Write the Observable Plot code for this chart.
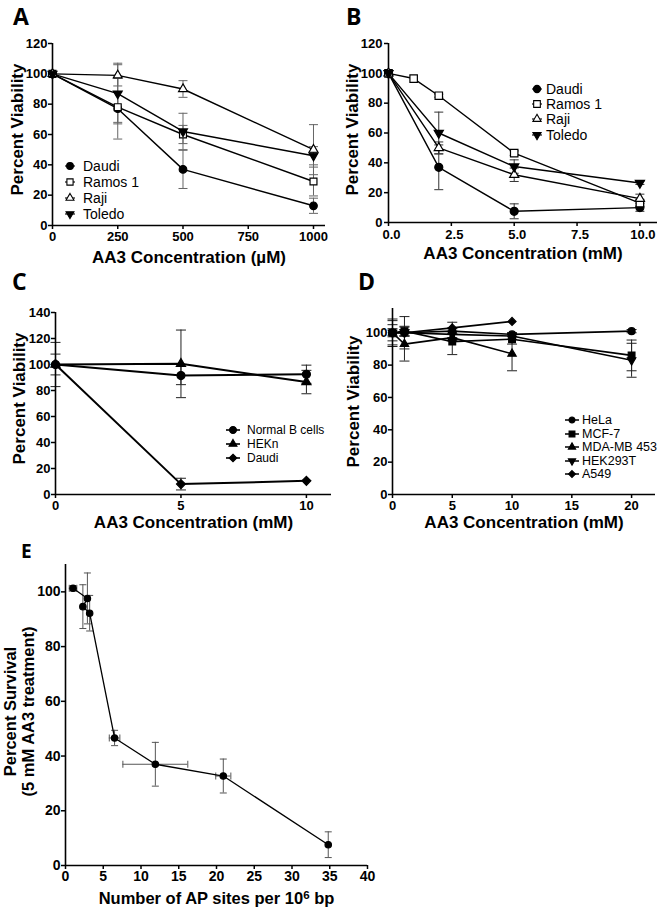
<!DOCTYPE html>
<html><head><meta charset="utf-8">
<script src="https://cdn.jsdelivr.net/npm/d3@7"></script>
<script src="https://cdn.jsdelivr.net/npm/@observablehq/plot@0.6"></script>
<style>
body{margin:0;background:#fff;}
#fig{position:relative;width:670px;height:911px;background:#fff;font-family:"Liberation Sans",Arial,sans-serif;overflow:hidden}
.panel{position:absolute}
.letter{position:absolute;font-family:"Open Sans",sans-serif;font-weight:700;line-height:1;color:#000}
.leg{position:absolute;overflow:visible}
.legtxt{position:absolute;white-space:nowrap;line-height:1;transform:translateY(-50%);color:#000;font-family:"Liberation Sans",Arial,sans-serif}
</style></head><body><div id="fig"></div>
<script>
// ---------------- DATA ----------------
// Panel A (AA3 µM)
const aConc = [0, 250, 500, 1000];
const aNames = ["Daudi", "Ramos 1", "Raji", "Toledo"];
const aDaudi = [100, 77, 37, 13];
const aDaudiErr = [0, 20, 12.6, 5];
const aRamos = [100, 78, 60, 29];
const aRamosErr = [0, 10, 6, 9.5];
const aRaji = [100, 99, 90, 50];
const aRajiErr = [0, 7, 5.5, 16.5];
const aToledo = [100, 87, 62, 46];
const aToledoErr = [0, 20, 12, 6];
const aXTicks = [0, 250, 500, 750, 1000];
const aYTicks = [0, 20, 40, 60, 80, 100, 120];

// Panel B (AA3 mM)
const bConc = [0, 2, 5, 10];
const bConcRamos = [0, 1, 2, 5, 10];
const bNames = ["Daudi", "Ramos 1", "Raji", "Toledo"];
const bDaudi = [100, 37, 7.5, 10];
const bDaudiErr = [0, 15, 5, 2.5];
const bRamos = [100, 96.5, 85, 46.5, 13];
const bRamosErr = [0, 0, 1, 1.5, 2];
const bRaji = [100, 50, 32, 16];
const bRajiErr = [0, 4, 4.5, 3];
const bToledo = [100, 60, 37.5, 26.5];
const bToledoErr = [0, 14, 4.5, 1];
const bXTicks = [0, 2.5, 5, 7.5, 10];
const bYTicks = [0, 20, 40, 60, 80, 100, 120];

// Panel C
const cConc = [0, 5, 10];
const cNames = ["Normal B cells", "HEKn", "Daudi"];
const cNormalB = [100, 91.5, 92.5];
const cNormalBErr = [8, 7, 7];
const cHEKn = [100, 100.5, 86.5];
const cHEKnErr = [17, 26, 9];
const cDaudi = [100, 8, 10.5];
const cDaudiErr = [0, 4.5, 0];
const cXTicks = [0, 5, 10];
const cYTicks = [0, 20, 40, 60, 80, 100, 120, 140];

// Panel D
const dConc = [0, 1, 5, 10, 20];
const dConcShort = [0, 1, 5, 10];
const dNames = ["HeLa", "MCF-7", "MDA-MB 453", "HEK293T", "A549"];
const dHeLa = [100, 100, 101, 99, 101];
const dHeLaErr = [2.5, 2, 2, 1, 1];
const dMCF7 = [100, 101, 94.5, 96, 86];
const dMCF7Err = [5, 3, 8, 3, 9.5];
const dMDA = [100, 93, 97, 87];
const dMDAErr = [8.5, 10.5, 2, 10.5];
const dHEK = [100, 100, 99, 98, 83];
const dHEKErr = [0, 2, 2, 2, 10.5];
const dA549 = [100, 100, 103, 107];
const dA549Err = [7.5, 10, 3.5, 0];
const dXTicks = [0, 5, 10, 15, 20];
const dYTicks = [0, 20, 40, 60, 80, 100];

// Panel E
const eSites = [1.0, 2.9, 2.3, 3.2, 6.5, 11.9, 20.9, 34.8];
const eSitesErr = [0.5, 0, 0, 0, 0.7, 4.3, 1.0, 0];
const eSurvival = [101.3, 97.6, 94.6, 92.2, 46.6, 37.0, 32.7, 7.6];
const eSurvivalErr = [1, 9.3, 8, 6.5, 2.8, 8, 6.2, 4.7];
const eXTicks = [0, 5, 10, 15, 20, 25, 30, 35, 40];
const eYTicks = [0, 20, 40, 60, 80, 100];

// ---------------- SYMBOLS ----------------
const sqrt3 = Math.sqrt(3);
const triDown = {draw(ctx, size) {
  const y = -Math.sqrt(size / (sqrt3 * 3));
  ctx.moveTo(0, -y * 2); ctx.lineTo(-sqrt3 * y, y); ctx.lineTo(sqrt3 * y, y); ctx.closePath();
}};
const capH = {draw(ctx, size) { const r = Math.sqrt(size / Math.PI); ctx.moveTo(-r, 0); ctx.lineTo(r, 0); }};
const capV = {draw(ctx, size) { const r = Math.sqrt(size / Math.PI); ctx.moveTo(0, -r); ctx.lineTo(0, r); }};
const CIRCLE = d3.symbolCircle, SQUARE = d3.symbolSquare, TRI = d3.symbolTriangle, DIAM = d3.symbolDiamond2;

// ---------------- BUILD ----------------
const fig = document.getElementById("fig");
const FONT = '"Liberation Sans", Arial, sans-serif';

function rowsOf(s) {
  return s.xs.map((x, i) => ({name: s.name, x, y: s.ys[i], err: s.errs ? s.errs[i] : 0, xerr: s.xerrs ? s.xerrs[i] : 0}));
}

function panel(cfg) {
  const rows = cfg.series.flatMap(rowsOf);
  const er = rows.filter(d => d.err > 0);
  const xer = rows.filter(d => d.xerr > 0);
  const marks = [];
  marks.push(Plot.ruleX(er, {x: "x", y1: d => d.y - d.err, y2: d => d.y + d.err, stroke: cfg.errColor, strokeWidth: 1}));
  marks.push(Plot.dot(er, {x: "x", y: d => d.y + d.err, symbol: capH, r: cfg.capR, stroke: cfg.errColor, fill: "none", strokeWidth: 1}));
  marks.push(Plot.dot(er, {x: "x", y: d => d.y - d.err, symbol: capH, r: cfg.capR, stroke: cfg.errColor, fill: "none", strokeWidth: 1}));
  if (xer.length) {
    marks.push(Plot.ruleY(xer, {y: "y", x1: d => d.x - d.xerr, x2: d => d.x + d.xerr, stroke: cfg.errColor, strokeWidth: 1}));
    marks.push(Plot.dot(xer, {x: d => d.x - d.xerr, y: "y", symbol: capV, r: cfg.capR, stroke: cfg.errColor, fill: "none", strokeWidth: 1}));
    marks.push(Plot.dot(xer, {x: d => d.x + d.xerr, y: "y", symbol: capV, r: cfg.capR, stroke: cfg.errColor, fill: "none", strokeWidth: 1}));
  }
  marks.push(Plot.ruleX([cfg.xDomain[0]], {stroke: "black", strokeWidth: 1.6}));
  marks.push(Plot.ruleY([cfg.yDomain[0]], {stroke: "black", strokeWidth: 1.6}));
  marks.push(Plot.axisY({ticks: cfg.yTicks, tickFormat: d3.format("d"), tickSize: 4, tickPadding: cfg.yPad || 1, strokeWidth: 1.5, label: null, fontSize: cfg.tickFont, fontWeight: "bold"}));
  const xFmt = cfg.xFormat || d3.format("d");
  if (cfg.xShift) {
    // tick marks, then tick labels nudged sideways as in the reference
    marks.push(Plot.axisX({ticks: cfg.xTicks, tickFormat: () => "", tickSize: 4, strokeWidth: 1.5, label: null}));
    marks.push(Plot.axisX({ticks: cfg.xTicks, tickFormat: xFmt, tickSize: 0, tickPadding: 4 + (cfg.xPad || 2), dx: cfg.xShift, label: null, fontSize: cfg.tickFont, fontWeight: "bold"}));
  } else {
    marks.push(Plot.axisX({ticks: cfg.xTicks, tickFormat: xFmt, tickSize: 4, tickPadding: cfg.xPad || 2, strokeWidth: 1.5, label: null, fontSize: cfg.tickFont, fontWeight: "bold"}));
  }
  marks.push(Plot.line(rows, {x: "x", y: "y", z: "name", stroke: "black", strokeWidth: cfg.lineWidth}));
  for (const s of cfg.series) {
    marks.push(Plot.dot(rowsOf(s), {x: "x", y: "y", symbol: s.sym, r: s.r, fill: s.fill, stroke: "black", strokeWidth: 1.2}));
  }
  marks.push(Plot.text([cfg.xLabel], {text: d => d, frameAnchor: "bottom", textAnchor: "middle", dy: cfg.xLabelDy, lineAnchor: "middle", fontSize: cfg.labelFont, fontWeight: "bold", fontFamily: FONT, fill: "black"}));
  marks.push(Plot.text([cfg.yLabel], {text: d => d, frameAnchor: "left", textAnchor: "middle", rotate: -90, dx: cfg.yLabelDx, dy: cfg.yLabelDy, lineAnchor: "middle", lineHeight: 1.1, fontSize: cfg.labelFont, fontWeight: "bold", fontFamily: FONT, fill: "black"}));
  const svg = Plot.plot({
    width: cfg.width, height: cfg.height,
    marginLeft: cfg.m[0], marginTop: cfg.m[1], marginRight: cfg.m[2], marginBottom: cfg.m[3],
    x: {domain: cfg.xDomain}, y: {domain: cfg.yDomain},
    style: {fontFamily: FONT, fontSize: cfg.tickFont + "px", fontWeight: "bold", color: "black", background: "transparent", overflow: "visible"},
    marks
  });
  const div = document.createElement("div");
  div.className = "panel";
  div.style.left = cfg.left + "px"; div.style.top = cfg.top + "px";
  div.appendChild(svg);
  fig.appendChild(div);
  return svg;
}

function legend(series, o) {
  series.forEach((s, i) => {
    const y = o.ys[i];
    const svg = d3.select(fig).append("svg").attr("class", "leg")
      .style("left", (o.mx - 12) + "px").style("top", (y - 8) + "px").attr("width", 24).attr("height", 16);
    svg.append("line").attr("x1", 12 - o.seg).attr("x2", 12 + o.seg).attr("y1", 8).attr("y2", 8)
      .attr("stroke", "black").attr("stroke-width", o.lw);
    svg.append("path").attr("transform", "translate(12,8)")
      .attr("d", d3.symbol(s.sym, Math.PI * s.r * s.r * o.scale)())
      .attr("fill", s.fill).attr("stroke", "black").attr("stroke-width", 1.1);
    d3.select(fig).append("div").attr("class", "legtxt")
      .style("left", o.tx + "px").style("top", y + "px").style("font-size", o.fontSize + "px").text(s.name);
  });
}

function letter(t, left, top, size) {
  const d = document.createElement("div");
  d.className = "letter"; d.textContent = t;
  d.style.left = left + "px"; d.style.top = top + "px"; d.style.fontSize = size + "px";
  fig.appendChild(d);
}

// Panel A
const aSeries = [
  {name: aNames[0], xs: aConc, ys: aDaudi, errs: aDaudiErr, sym: CIRCLE, fill: "black", r: 3.8},
  {name: aNames[1], xs: aConc, ys: aRamos, errs: aRamosErr, sym: SQUARE, fill: "white", r: 3.9},
  {name: aNames[2], xs: aConc, ys: aRaji, errs: aRajiErr, sym: TRI, fill: "white", r: 3.3},
  {name: aNames[3], xs: aConc, ys: aToledo, errs: aToledoErr, sym: triDown, fill: "black", r: 3.3}
];
panel({left: 0, top: 30, width: 335, height: 240, m: [52, 13, 10, 45],
  xDomain: [0, 1046], yDomain: [0, 120], xTicks: aXTicks, yTicks: aYTicks,
  series: aSeries, errColor: "#666", capR: 4.5, lineWidth: 1.4, tickFont: 13, labelFont: 17,
  xLabel: "AA3 Concentration (\u00b5M)", yLabel: "Percent Viability", xLabelDy: 32, yLabelDx: -35, yLabelDy: -5});
legend(aSeries, {mx: 70, tx: 83, ys: [166, 182, 198, 214], fontSize: 14, seg: 5, lw: 1.1, scale: 0.8});

// Panel B
const bSeries = [
  {name: bNames[0], xs: bConc, ys: bDaudi, errs: bDaudiErr, sym: CIRCLE, fill: "black", r: 4},
  {name: bNames[1], xs: bConcRamos, ys: bRamos, errs: bRamosErr, sym: SQUARE, fill: "white", r: 4.2},
  {name: bNames[2], xs: bConc, ys: bRaji, errs: bRajiErr, sym: TRI, fill: "white", r: 3.4},
  {name: bNames[3], xs: bConc, ys: bToledo, errs: bToledoErr, sym: triDown, fill: "black", r: 3.4}
];
panel({left: 335, top: 30, width: 335, height: 240, m: [53, 13, 13, 48],
  xDomain: [0, 10.7], yDomain: [0, 120], xTicks: bXTicks, yTicks: bYTicks, xFormat: d3.format(".1f"),
  xPad: 3, xShift: 3, yPad: 2,
  series: bSeries, errColor: "#333", capR: 4.5, lineWidth: 1.4, tickFont: 13, labelFont: 17,
  xLabel: "AA3 Concentration (mM)", yLabel: "Percent Viability", xLabelDy: 31, yLabelDx: -36, yLabelDy: -3.5});
legend(bSeries, {mx: 537, tx: 546, ys: [89, 104, 119, 135], fontSize: 14, seg: 5, lw: 1.1, scale: 0.8});

// Panel C
const cSeries = [
  {name: cNames[0], xs: cConc, ys: cNormalB, errs: cNormalBErr, sym: CIRCLE, fill: "black", r: 4},
  {name: cNames[1], xs: cConc, ys: cHEKn, errs: cHEKnErr, sym: TRI, fill: "black", r: 3.4},
  {name: cNames[2], xs: cConc, ys: cDaudi, errs: cDaudiErr, sym: DIAM, fill: "black", r: 4}
];
panel({left: 0, top: 270, width: 335, height: 260, m: [55, 42, 4, 36],
  xDomain: [0, 11], yDomain: [0, 140], xTicks: cXTicks, yTicks: cYTicks,
  series: cSeries, errColor: "#222", capR: 5, lineWidth: 2, tickFont: 13, labelFont: 17,
  xLabel: "AA3 Concentration (mM)", yLabel: "Percent Viability", xLabelDy: 28, yLabelDx: -36, yLabelDy: -5});
legend(cSeries, {mx: 233, tx: 247, ys: [430, 444, 458], fontSize: 12, seg: 7, lw: 1.6, scale: 0.75});

// Panel D
const dSeries = [
  {name: dNames[0], xs: dConc, ys: dHeLa, errs: dHeLaErr, sym: CIRCLE, fill: "black", r: 3.5},
  {name: dNames[1], xs: dConc, ys: dMCF7, errs: dMCF7Err, sym: SQUARE, fill: "black", r: 3.8},
  {name: dNames[2], xs: dConcShort, ys: dMDA, errs: dMDAErr, sym: TRI, fill: "black", r: 3.1},
  {name: dNames[3], xs: dConc, ys: dHEK, errs: dHEKErr, sym: triDown, fill: "black", r: 3.1},
  {name: dNames[4], xs: dConcShort, ys: dA549, errs: dA549Err, sym: DIAM, fill: "black", r: 3.6}
];
panel({left: 335, top: 270, width: 335, height: 260, m: [57, 38, 15, 36],
  xDomain: [0, 22], yDomain: [0, 115], xTicks: dXTicks, yTicks: dYTicks,
  series: dSeries, errColor: "#222", capR: 5, lineWidth: 1.6, tickFont: 13, labelFont: 17,
  xLabel: "AA3 Concentration (mM)", yLabel: "Percent Viability", xLabelDy: 28, yLabelDx: -39, yLabelDy: 0});
legend(dSeries, {mx: 572, tx: 582, ys: [420, 433.5, 447, 460.5, 474], fontSize: 12.5, seg: 7, lw: 1.5, scale: 0.75});

// Panel E
const eSeries = [
  {name: "AP sites", xs: eSites, ys: eSurvival, errs: eSurvivalErr, xerrs: eSitesErr, sym: CIRCLE, fill: "black", r: 3.2}
];
const eSvg = panel({left: 0, top: 540, width: 400, height: 371, m: [65, 24, 33, 46],
  xDomain: [0, 40], yDomain: [0, 110], xTicks: eXTicks, yTicks: eYTicks,
  series: eSeries, errColor: "#555", capR: 3.5, lineWidth: 1.3, tickFont: 14, labelFont: 16.5,
  xLabel: "Number of AP sites per 10\u2076 bp", yLabel: "Percent Survival\n(5 mM AA3 treatment)", xLabelDy: 33, yLabelDx: -46, yLabelDy: -3.5});
// render the exponent as a raised, smaller digit
d3.select(eSvg).selectAll("text").each(function() {
  const t = d3.select(this);
  const s = t.text();
  if (s.indexOf("\u2076") >= 0 && t.selectAll("tspan").empty()) {
    const [pre, post] = s.split("\u2076");
    t.text(null);
    t.append("tspan").text(pre);
    t.append("tspan").attr("dy", "-0.45em").attr("font-size", "70%").text("6");
    t.append("tspan").attr("dy", "0.315em").text(post);
  }
});

// Panel letters
letter("A", 13, 4.5, 23);
letter("B", 346, 4.5, 23);
letter("C", 12, 270, 23);
letter("D", 358, 270, 23);
letter("E", 21, 542, 19);
</script></body></html>
